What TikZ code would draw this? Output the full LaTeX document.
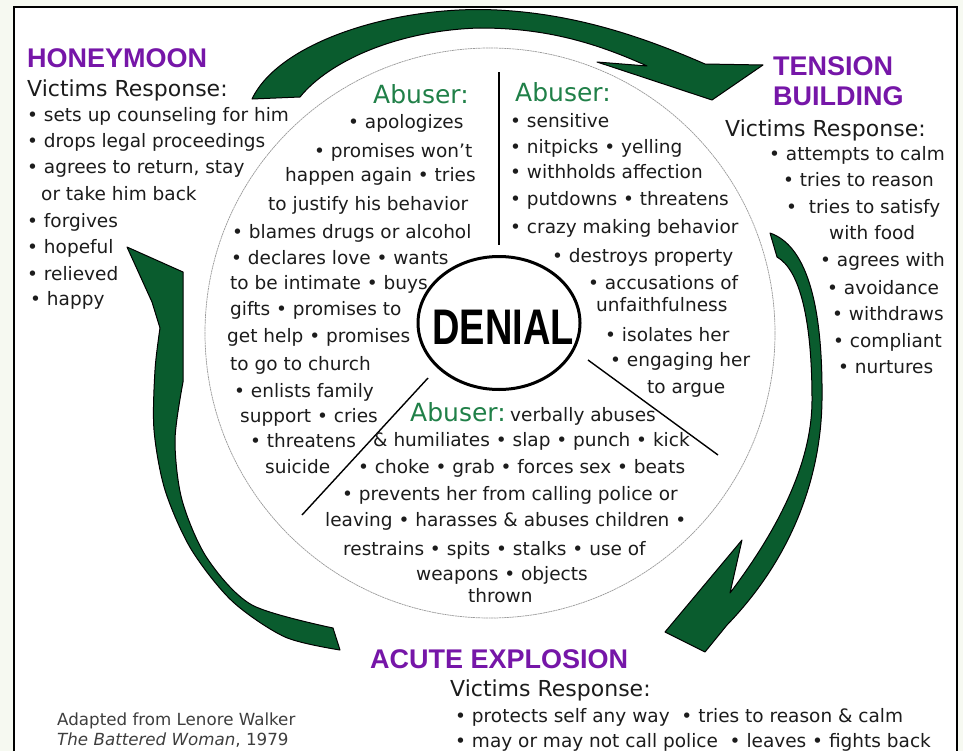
\documentclass[tikz,border=0pt]{standalone}
\usepackage{fontspec}
\setmainfont{DejaVu Sans}
\newfontfamily\phasefont{Liberation Sans}
\usetikzlibrary{shapes.geometric}
\definecolor{paper}{RGB}{246,249,241}
\definecolor{ink}{RGB}{28,28,28}
\definecolor{phasepurple}{RGB}{118,22,168}
\definecolor{abusergreen}{RGB}{32,128,72}
\definecolor{swooshgreen}{RGB}{10,92,46}
\newcommand{\bt}{\textbullet\ }

\begin{document}
\begin{tikzpicture}[x=1pt, y=-1pt,
   every node/.style={inner sep=0pt, anchor=base west},
   body/.style={font=\fontsize{18.5}{22}\selectfont, text=ink},
   phase/.style={font=\phasefont\bfseries\fontsize{27}{30}\selectfont, text=phasepurple},
   victims/.style={font=\fontsize{22}{26}\selectfont, text=ink},
   abuser/.style={font=\fontsize{25}{28}\selectfont, text=abusergreen},
   credit/.style={font=\fontsize{16.7}{20}\selectfont, text=ink!85},
   swoosh/.style={fill=swooshgreen, draw=black, line width=1pt, line join=round}]

    % frame
    \fill[paper] (0,0) rectangle (963,751);
    \fill[white] (14,7) rectangle (957,751);
    \draw[line width=2pt] (14,751) -- (14,7) -- (957,7) -- (957,751);
    \useasboundingbox (0,0) rectangle (963,751);

    % big circle, denial and dividers
    \draw[gray!80, line width=0.7pt, dash pattern=on 2pt off 0.6pt] (490,333) circle[radius=285];
    \node[draw, ellipse, line width=3pt, minimum width=162pt, minimum height=133pt, anchor=center] (denial) at (499,323) {};
    \node[anchor=center] (denialtxt) at (503,327) {\scalebox{0.76}[1]{\phasefont\bfseries\fontsize{50}{50}\selectfont DENIAL}};
    \draw[line width=1.4pt] (499,72) -- (499,245);
    \draw[line width=1.4pt] (428,378) -- (302,515);
    \draw[line width=1.4pt] (588,360) -- (718,455);

    % arrows
    \filldraw[swoosh] (252,99) .. controls (280,40) and (400,5) .. (497,10)
        .. controls (580,14) and (650,40) .. (705,64) -- (763,65) -- (712,100) -- (597,62) -- (647,66)
        .. controls (590,40) and (540,28) .. (480,28) .. controls (400,30) and (330,60) .. (300,97) -- cycle;
    \filldraw[swoosh] (770,233) .. controls (805,245) and (823,300) .. (822,400)
        .. controls (821,480) and (790,560) .. (727,625) -- (705,652) -- (665,632) -- (742,540) -- (730,593)
        .. controls (770,540) and (812,470) .. (812,400) .. controls (812,320) and (800,270) .. (777,257) -- cycle;
    \filldraw[swoosh] (127,247) -- (183,272) -- (183,382)
        -- plot[smooth] coordinates {(183,382) (175,440) (182,500) (207,558) (252,605) (333,628)}
        -- (340,650)
        -- plot[smooth] coordinates {(340,650) (285,637) (232,601) (191,549) (165,490) (154,430) (155,370) (160,328)}
        -- (152,302) -- cycle;

    % honeymoon
    \node[phase] (honeymoon) at (27,67) {HONEYMOON};
    \node[victims] (hmvictims) at (27,96) {Victims Response:};
    \foreach \x/\y/\t [count=\i] in {27/121/{\bt sets up counseling for him}, 27/147/{\bt drops legal proceedings},
        27/173/{\bt agrees to return, stay}, 41/200/{or take him back}, 27/227/{\bt forgives},
        27/253/{\bt hopeful}, 27/280/{\bt relieved}, 30/305/{\bt happy}}
        \node[body] (hm\i) at (\x,\y) {\t};

    % tension building
    \node[phase] (tension) at (773,75) {TENSION};
    \node[phase] (building) at (773,105) {BUILDING};
    \node[victims] (tbvictims) at (725,136) {Victims Response:};
    \foreach \x/\y/\t [count=\i] in {769/160/{\bt attempts to calm}, 783/186/{\bt tries to reason},
        786/213/{\bt\ tries to satisfy}, 829/239/{with food}, 820/266/{\bt agrees with},
        827/294/{\bt avoidance}, 832/320/{\bt withdraws}, 833/347/{\bt compliant}, 838/373/{\bt nurtures}}
        \node[body] (tb\i) at (\x,\y) {\t};

    % abuser, honeymoon side
    \node[abuser] (abuserhm) at (373,103) {Abuser:};
    \foreach \x/\y/\t [count=\i] in {348/128/{\bt apologizes}, 314/157/{\bt promises won't},
        285/181/{happen again \bt tries}, 268/210/{to justify his behavior}, 232/238/{\bt blames drugs or alcohol},
        231/264/{\bt declares love \bt wants}, 230/289/{to be intimate \bt buys}, 230/315/{gifts \bt promises to},
        227/342/{get help \bt promises}, 230/370/{to go to church}, 234/397/{\bt enlists family},
        240/422/{support \bt cries}, 250/447/{\bt threatens}, 265/473/{suicide}}
        \node[body] (ahm\i) at (\x,\y) {\t};

    % abuser, tension side
    \node[abuser] (abusertb) at (515,101) {Abuser:};
    \foreach \x/\y/\t [count=\i] in {510/127/{\bt sensitive}, 510/153/{\bt nitpicks \bt yelling},
        510/178/{\bt withholds affection}, 510/205/{\bt putdowns \bt threatens}, 510/233/{\bt crazy making behavior},
        552/262/{\bt destroys property}, 588/289/{\bt accusations of}, 596/311/{unfaithfulness},
        605/341/{\bt isolates her}, 610/366/{\bt engaging her}, 647/393/{to argue}}
        \node[body] (atb\i) at (\x,\y) {\t};

    % abuser, explosion side
    \node[abuser] (abuserae) at (410,421) {Abuser:};
    \node[body] (aeverbal) at (510,421) {verbally abuses};
    \foreach \x/\y/\t [count=\i] in {373/446/{\& humiliates \bt slap \bt punch \bt kick},
        358/473/{\bt choke \bt grab \bt forces sex \bt beats}, 342/500/{\bt prevents her from calling police or},
        325/526/{leaving \bt harasses \& abuses children \textbullet}, 343/555/{restrains \bt spits \bt stalks \bt use of},
        416/580/{weapons \bt objects}, 468/602/{thrown}}
        \node[body] (aae\i) at (\x,\y) {\t};

    % acute explosion
    \node[phase] (explosion) at (370,668) {ACUTE EXPLOSION};
    \node[victims] (aevictims) at (450,696) {Victims Response:};
    \node[body] (ae1) at (455,722) {\bt protects self any way \ \bt tries to reason \& calm};
    \node[body] (ae2) at (455,747) {\bt may or may not call police \ \bt leaves \bt fights back};

    % source
    \node[credit] (source1) at (57,725) {Adapted from Lenore Walker};
    \node[credit] (source2) at (57,745) {\textit{The Battered Woman}, 1979};
\end{tikzpicture}
\end{document}
